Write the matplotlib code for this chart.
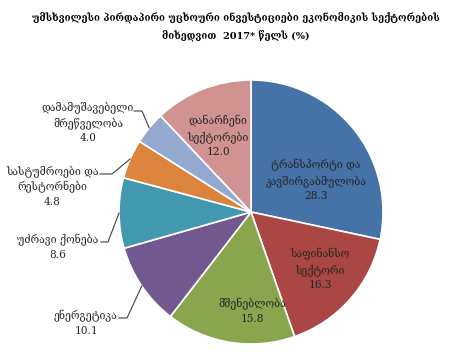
import numpy as np
import matplotlib
matplotlib.use("Agg")
import matplotlib.pyplot as plt

plt.rcParams['font.family'] = ['DejaVu Serif', 'DejaVu Sans']

# データ
title = "უმსხვილესი პირდაპირი უცხოური ინვესტიციები ეკონომიკის სექტორების\nმიხედვით  2017* წელს (%)"
sectors = ["ტრანსპორტი და\nკავშირგაბმულობა", "საფინანსო\nსექტორი", "მშენებლობა",
           "ენერგეტიკა", "უძრავი ქონება", "სასტუმროები და\nრესტორნები",
           "დამამუშავებელი\nმრეწველობა", "დანარჩენი\nსექტორები"]
shares = [28.3, 16.3, 15.8, 10.1, 8.6, 4.8, 4.0, 12.0]
colors = ["#4572A7", "#AA4643", "#89A54E", "#71588F", "#4198AF", "#DB843D", "#93A9CF", "#D19392"]

# レイアウト (ピクセル座標, y は下向き)
W, H = 460, 361
cx, cy, r = 251, 212, 132
inside_pos = {0: (316, 180), 1: (320, 269), 2: (252, 311), 7: (218, 136)}
# 外側ラベル: テキスト中心, 引き出し線の始点, 折れ点
outside_pos = {3: ((86, 323), (119, 318), (127, 318)),
               4: ((58, 247), (101, 242), (108, 242)),
               5: ((52, 186), (100, 174), (112, 174)),
               6: ((88, 122), (134, 111), (142, 111))}

fig = plt.figure(figsize=(W / 100, H / 100), dpi=100)
ax = fig.add_axes([0, 0, 1, 1])

wedges, _ = ax.pie(shares, colors=colors, startangle=90, counterclock=False,
                   center=(cx, H - cy), radius=r,
                   wedgeprops=dict(edgecolor="white", linewidth=1.2))
ax.set_xlim(0, W)
ax.set_ylim(0, H)
ax.set_aspect("equal")
ax.axis("off")

fs = 7.6
for i, (x, y) in inside_pos.items():
    ax.text(x, H - y, f"{sectors[i]}\n{shares[i]:.1f}", ha="center", va="center",
            fontsize=fs, color="#262626", linespacing=1.45)

for i, ((tx, ty), (sx, sy), (kx, ky)) in outside_pos.items():
    ax.text(tx, H - ty, f"{sectors[i]}\n{shares[i]:.1f}", ha="center", va="center",
            fontsize=fs, color="#262626", linespacing=1.45)
    w = wedges[i]
    mid = np.deg2rad((w.theta1 + w.theta2) / 2)
    ex = cx + r * np.cos(mid)
    ey = (H - cy) + r * np.sin(mid)
    ax.plot([sx, kx, ex], [H - sy, H - ky, ey], color="#404040", lw=0.8)

fig.text(236 / W, 1 - 27 / H, title, ha="center", va="center", fontsize=7.0,
         fontweight="bold", linespacing=1.75)

fig.savefig("out.png", dpi=100)
